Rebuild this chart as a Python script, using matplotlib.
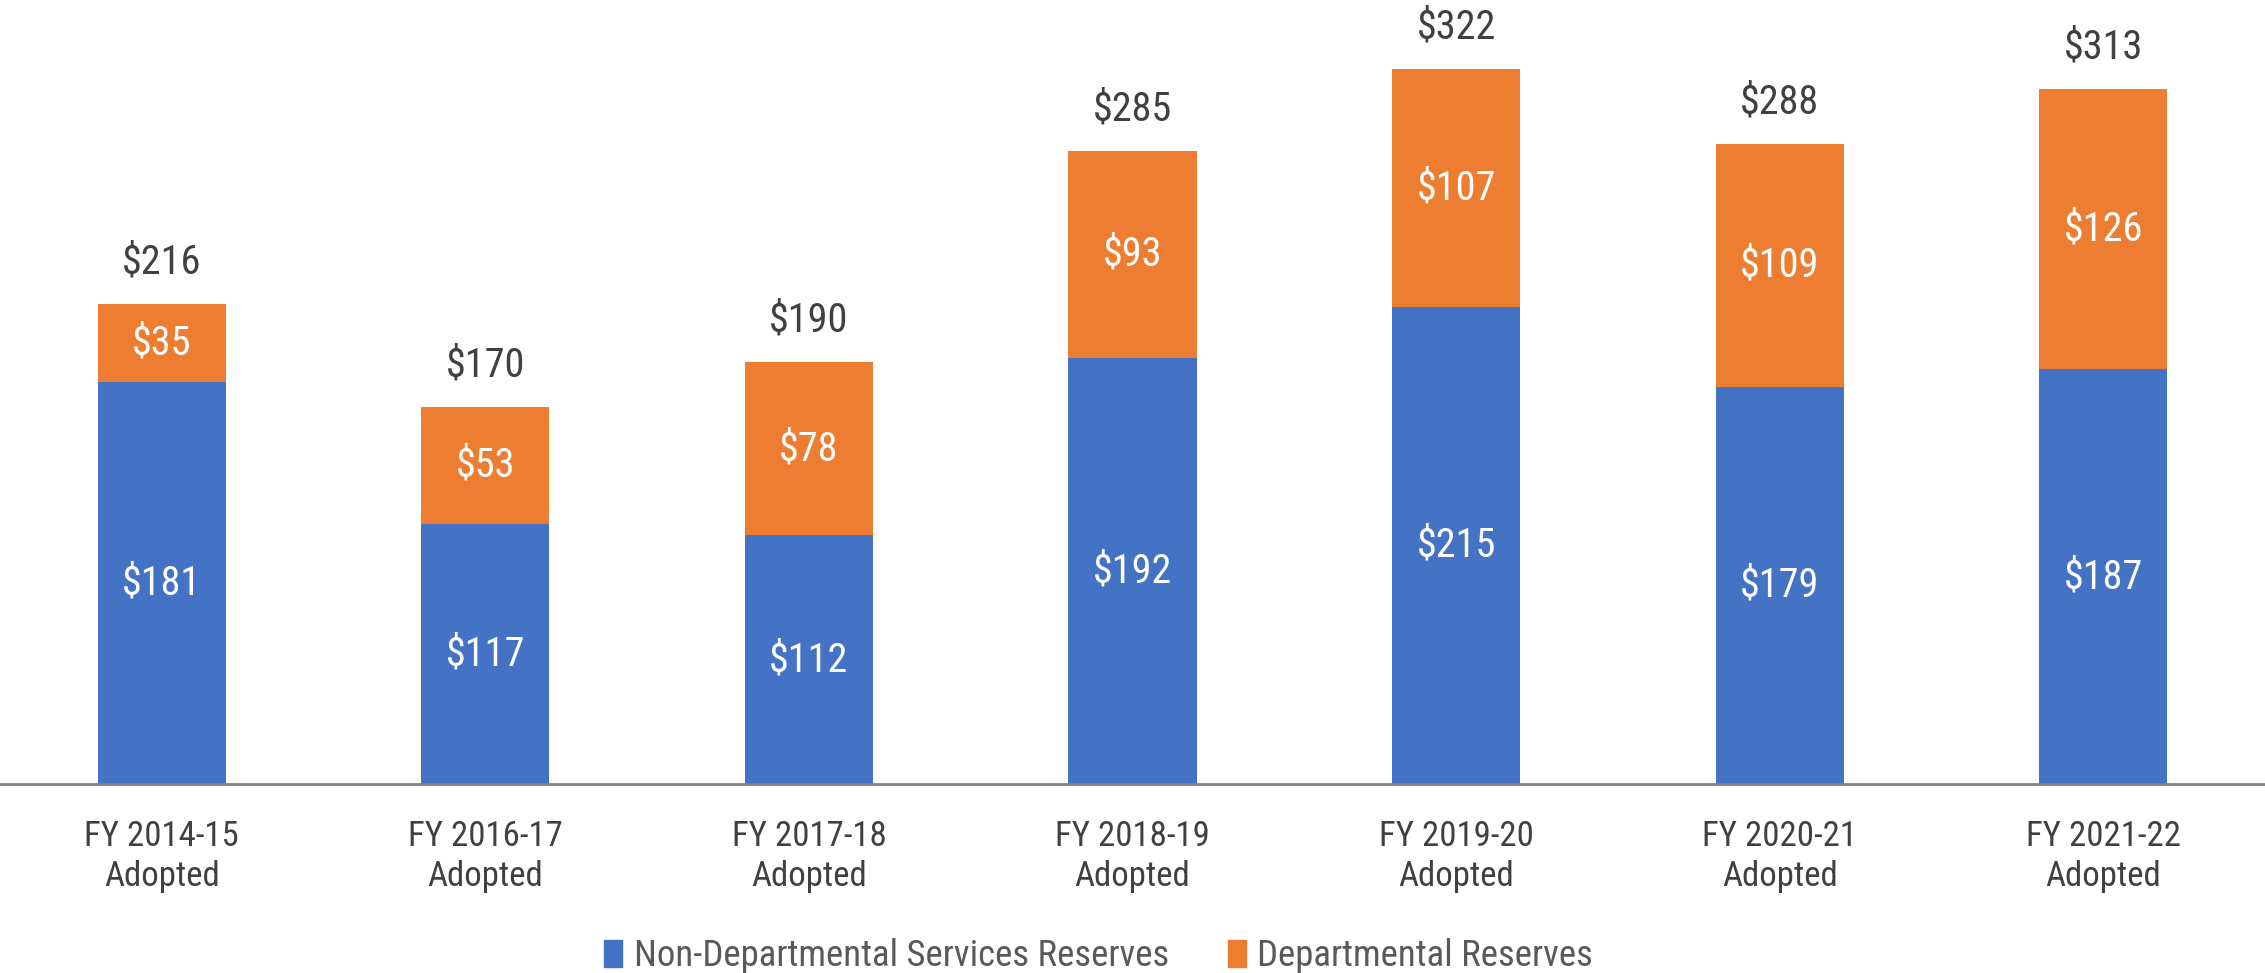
import matplotlib
matplotlib.use("Agg")
import matplotlib.pyplot as plt
from matplotlib.patches import Patch
from matplotlib import font_manager

names = {f.name for f in font_manager.fontManager.ttflist}
narrow = [n for n in ["Roboto Condensed", "Liberation Sans Narrow", "Open Sans Condensed",
                      "Noto Sans Condensed", "Roboto"] if n in names]
plt.rcParams['font.family'] = narrow[:1] + ['DejaVu Sans']

# data
years = ["FY 2014-15\nAdopted", "FY 2016-17\nAdopted", "FY 2017-18\nAdopted",
         "FY 2018-19\nAdopted", "FY 2019-20\nAdopted", "FY 2020-21\nAdopted",
         "FY 2021-22\nAdopted"]
non_dept = [181, 117, 112, 192, 215, 179, 187]
dept = [35, 53, 78, 93, 107, 109, 126]
totals = [216, 170, 190, 285, 322, 288, 313]

blue = "#4472C4"
orange = "#ED7D31"

fig = plt.figure(figsize=(22.65, 9.73), dpi=100)
ax = fig.add_axes([0, 0.194, 1, 0.806])

x = list(range(len(years)))
ax.bar(x, non_dept, width=0.396, color=blue)
ax.bar(x, dept, width=0.396, bottom=non_dept, color=orange)

for i in x:
    ax.text(i, non_dept[i] / 2, f"${non_dept[i]}", ha="center", va="center",
            color="white", fontsize=29)
    ax.text(i, non_dept[i] + dept[i] / 2, f"${dept[i]}", ha="center", va="center",
            color="white", fontsize=29)
    ax.annotate(f"${totals[i]}", (i, totals[i]), xytext=(0, 42),
                textcoords="offset pixels", ha="center", va="center",
                color="#404040", fontsize=29)

ax.set_xlim(-0.5, 6.5)
ax.set_ylim(0, 353)
ax.set_yticks([])
ax.set_xticks(x)
ax.set_xticklabels(years, fontsize=25, color="#404040", linespacing=1.25)
ax.tick_params(axis="x", length=0, pad=26)
for s in ["top", "right", "left"]:
    ax.spines[s].set_visible(False)
ax.spines["bottom"].set_color("#808080")
ax.spines["bottom"].set_linewidth(2)

handles = [Patch(color=blue, label="Non-Departmental Services Reserves"),
           Patch(color=orange, label="Departmental Reserves")]
leg = fig.legend(handles=handles, loc="center", bbox_to_anchor=(0.485, 0.017),
                 ncol=2, frameon=False, fontsize=26.5, handlelength=0.5,
                 handleheight=0.75, handletextpad=0.3, columnspacing=1.6)
for t in leg.get_texts():
    t.set_color("#595959")

fig.savefig("out.png", dpi=100)
